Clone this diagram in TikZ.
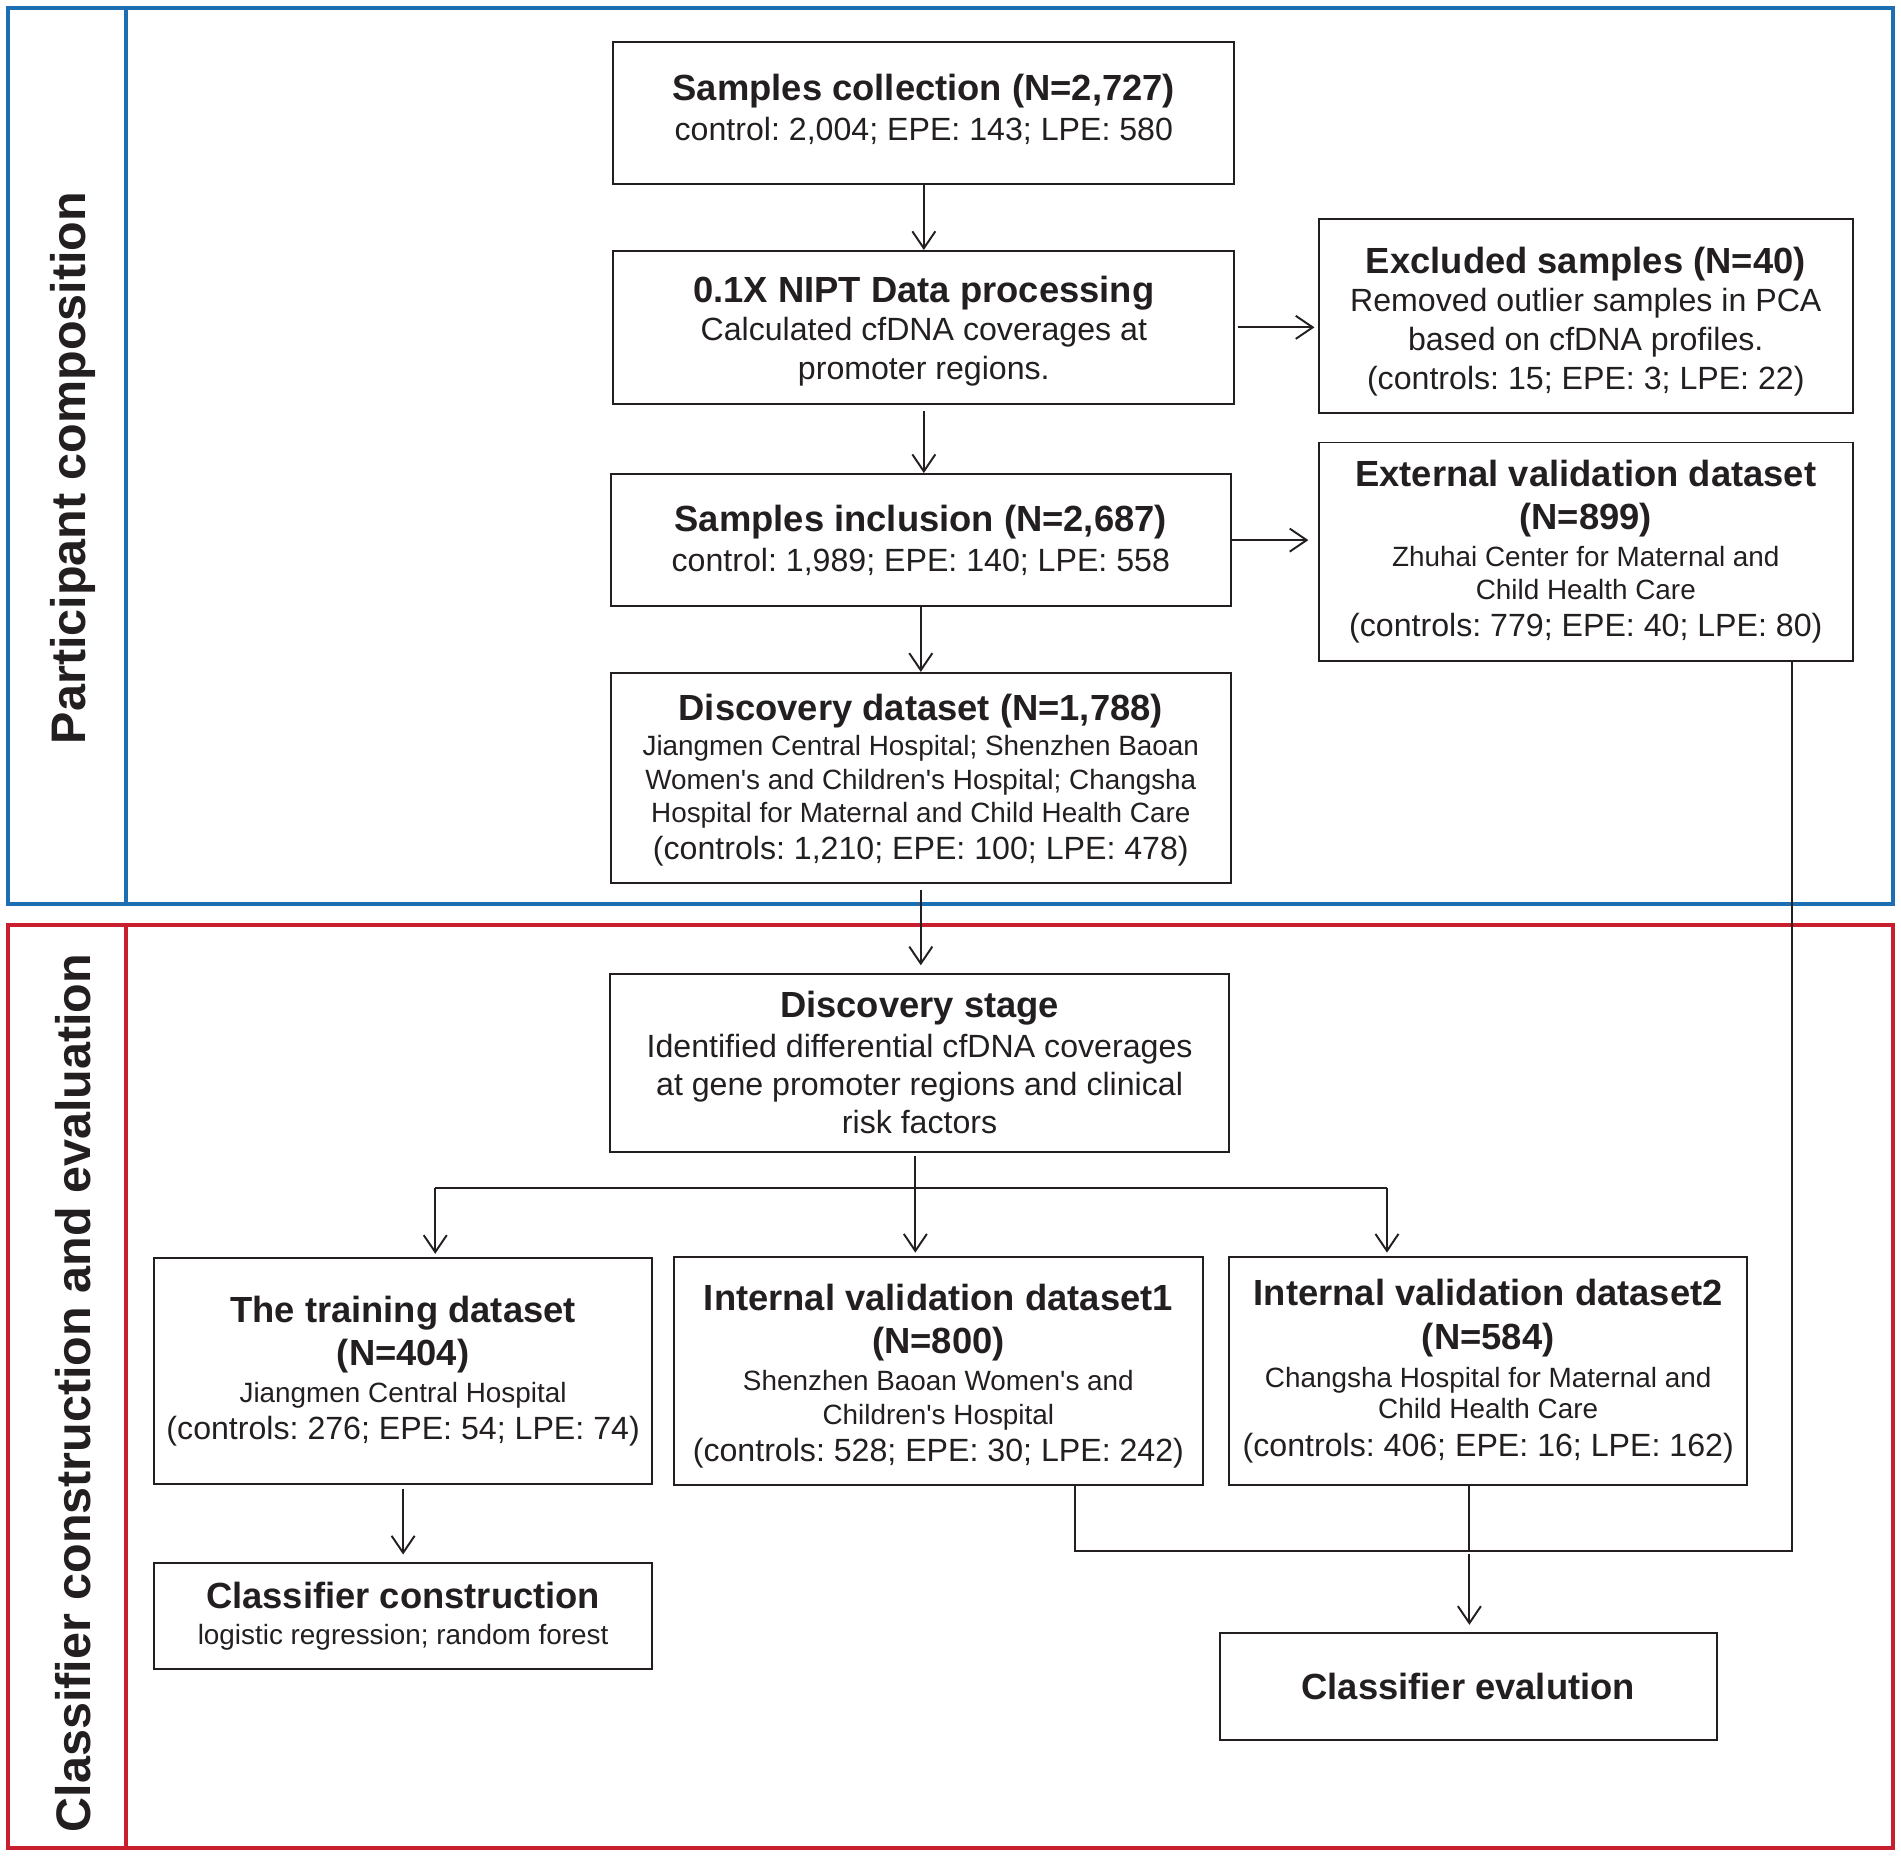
\documentclass[tikz,border=0pt]{standalone}
\usepackage{fontspec}
\setmainfont{Liberation Sans}[Ligatures=TeXOff]
\usetikzlibrary{arrows.meta,calc}
\frenchspacing
\definecolor{frameblue}{RGB}{30,110,180}
\definecolor{framered}{RGB}{200,30,45}
\definecolor{ink}{RGB}{35,31,32}
\newcommand\hd[1]{{\fontsize{30}{32}\selectfont\bfseries #1}}
\newcommand\sm[1]{{\fontsize{23}{32}\selectfont #1}}
\newcommand\boxfont{\fontsize{26.5}{32}\selectfont\setlength{\lineskiplimit}{-100pt}\frenchspacing}
\tikzset{
  bx/.style 2 args={draw=ink, line width=1.6pt, inner sep=0pt, align=center,
    minimum width=#1, minimum height=#2, text=ink, font=\boxfont},
  conn/.style={draw=ink, line width=1.6pt},
  arr/.style={conn, -{Straight Barb[length=14pt,width=19pt,line width=1.6pt]}},
  frameB/.style={draw=frameblue, line width=3.3pt},
  frameR/.style={draw=framered, line width=3.3pt},
  sidelab/.style={rotate=90, text=ink, font=\fontsize{40}{44}\selectfont\bfseries}
}
\begin{document}
\begin{tikzpicture}[x=1pt,y=-1pt]
\useasboundingbox (0,0) rectangle (1568,1531.7);
% frames
\draw[frameB] (7,7) rectangle (1561,746);
\draw[frameB] (104,7) -- (104,746);
\draw[frameR] (7,763) rectangle (1561,1524);
\draw[frameR] (104,763) -- (104,1524);
\node[sidelab] (lab1) at (60,386) {Participant composition};
\node[sidelab] (lab2) at (60,1149) {Classifier construction and evaluation};
% boxes
\node[bx={512pt}{117pt}] (s1) at (762,93.5)
  {\hd{Samples collection (N=2,727)}\\[1pt] control: 2,004; EPE: 143; LPE: 580\rule[-10pt]{0pt}{10pt}};
\node[bx={512pt}{126pt}] (s2) at (762,270)
  {\rule{0pt}{28pt}\hd{0.1X NIPT Data processing}\\ Calculated cfDNA coverages at\\ promoter regions.};
\node[bx={440pt}{160pt}] (ex) at (1308,261)
  {\rule{0pt}{30pt}\hd{Excluded samples (N=40)}\\ Removed outlier samples in PCA\\ based on cfDNA profiles.\\ (controls: 15; EPE: 3; LPE: 22)};
\node[bx={511pt}{109pt}] (inc) at (759.5,445.5)
  {\hd{Samples inclusion (N=2,687)}\\[1pt] control: 1,989; EPE: 140; LPE: 558};
\node[bx={440pt}{180pt}] (ext) at (1308,455)
  {\hd{External validation dataset}\\[4pt]\hd{(N=899)}\\[-2pt]\sm{Zhuhai Center for Maternal and}\\[-5pt]\sm{Child Health Care}\\[-1pt](controls: 779; EPE: 40; LPE: 80)};
\node[bx={511pt}{173pt}] (dd) at (759.5,641.5)
  {\rule{0pt}{26pt}\hd{Discovery dataset (N=1,788)}\\[-3pt]\sm{Jiangmen Central Hospital; Shenzhen Baoan}\\[-4pt]\sm{Women's and Children's Hospital; Changsha}\\[-5pt]\sm{Hospital for Maternal and Child Health Care}\\[-1pt](controls: 1,210; EPE: 100; LPE: 478)};
\node[bx={511pt}{147pt}] (ds) at (758.5,876.5)
  {\hd{Discovery stage}\\[1pt] Identified differential cfDNA coverages\\[-1pt] at gene promoter regions and clinical\\ risk factors};
\node[bx={411pt}{186pt}] (tr) at (332.5,1131)
  {\hd{The training dataset}\\[4pt]\hd{(N=404)}\\[-2pt]\sm{Jiangmen Central Hospital}\\[-1pt](controls: 276; EPE: 54; LPE: 74)};
\node[bx={436pt}{188pt}] (iv1) at (774,1131)
  {\rule{0pt}{30pt}\hd{Internal validation dataset1}\\[4pt]\hd{(N=800)}\\[-2pt]\sm{Shenzhen Baoan Women's and}\\[-4pt]\sm{Children's Hospital}\\[-1pt](controls: 528; EPE: 30; LPE: 242)};
\node[bx={427pt}{188pt}] (iv2) at (1227.5,1131)
  {\hd{Internal validation dataset2}\\[4pt]\hd{(N=584)}\\[-1pt]\sm{Changsha Hospital for Maternal and}\\[-6pt]\sm{Child Health Care}\\[-1pt](controls: 406; EPE: 16; LPE: 162)};
\node[bx={411pt}{88pt}] (cc) at (332.5,1333)
  {\hd{Classifier construction}\\[-2pt]\sm{logistic regression; random forest}};
\node[bx={410pt}{88pt}] (ce) at (1211,1391)
  {\hd{Classifier evalution}};
% connectors
\draw[arr] (s1.south) -- (s2.north);
\draw[arr, shorten <=2pt, shorten >=3pt] (s2.east) -- (s2.east -| ex.west);
\draw[arr, shorten <=5pt] (s2.south) -- (s2.south |- inc.north);
\draw[arr, shorten >=8pt] (inc.east) -- (inc.east -| ext.west);
\draw[arr] (inc.south) -- (inc.south |- dd.north);
\draw[arr, shorten <=5pt, shorten >=6pt] (dd.south) -- (dd.south |- ds.north);
\coordinate (bL) at (359,980);
\coordinate (bM) at (755,980);
\coordinate (bR) at (1144,980);
\draw[conn, shorten <=3pt] (ds.south -| bM) -- (bM);
\draw[conn] (bL) -- (bR);
\draw[arr, shorten >=3pt] (bL) -- (bL |- tr.north);
\draw[arr, shorten >=3pt] (bM) -- (bM |- iv1.north);
\draw[arr, shorten >=3pt] (bR) -- (bR |- iv2.north);
\draw[arr, shorten <=3pt, shorten >=6pt] (tr.south) -- (cc.north);
\coordinate (m1) at (887,1279);
\coordinate (m2) at (1212,1279);
\coordinate (m3) at (1478,1279);
\draw[conn, line join=miter] (iv1.south -| m1) -- (m1) -- (m3) -- (ext.south -| m3);
\draw[conn] (iv2.south -| m2) -- (m2);
\draw[arr, shorten <=3pt, shorten >=6pt] (m2) -- (m2 |- ce.north);
\end{tikzpicture}
\end{document}
